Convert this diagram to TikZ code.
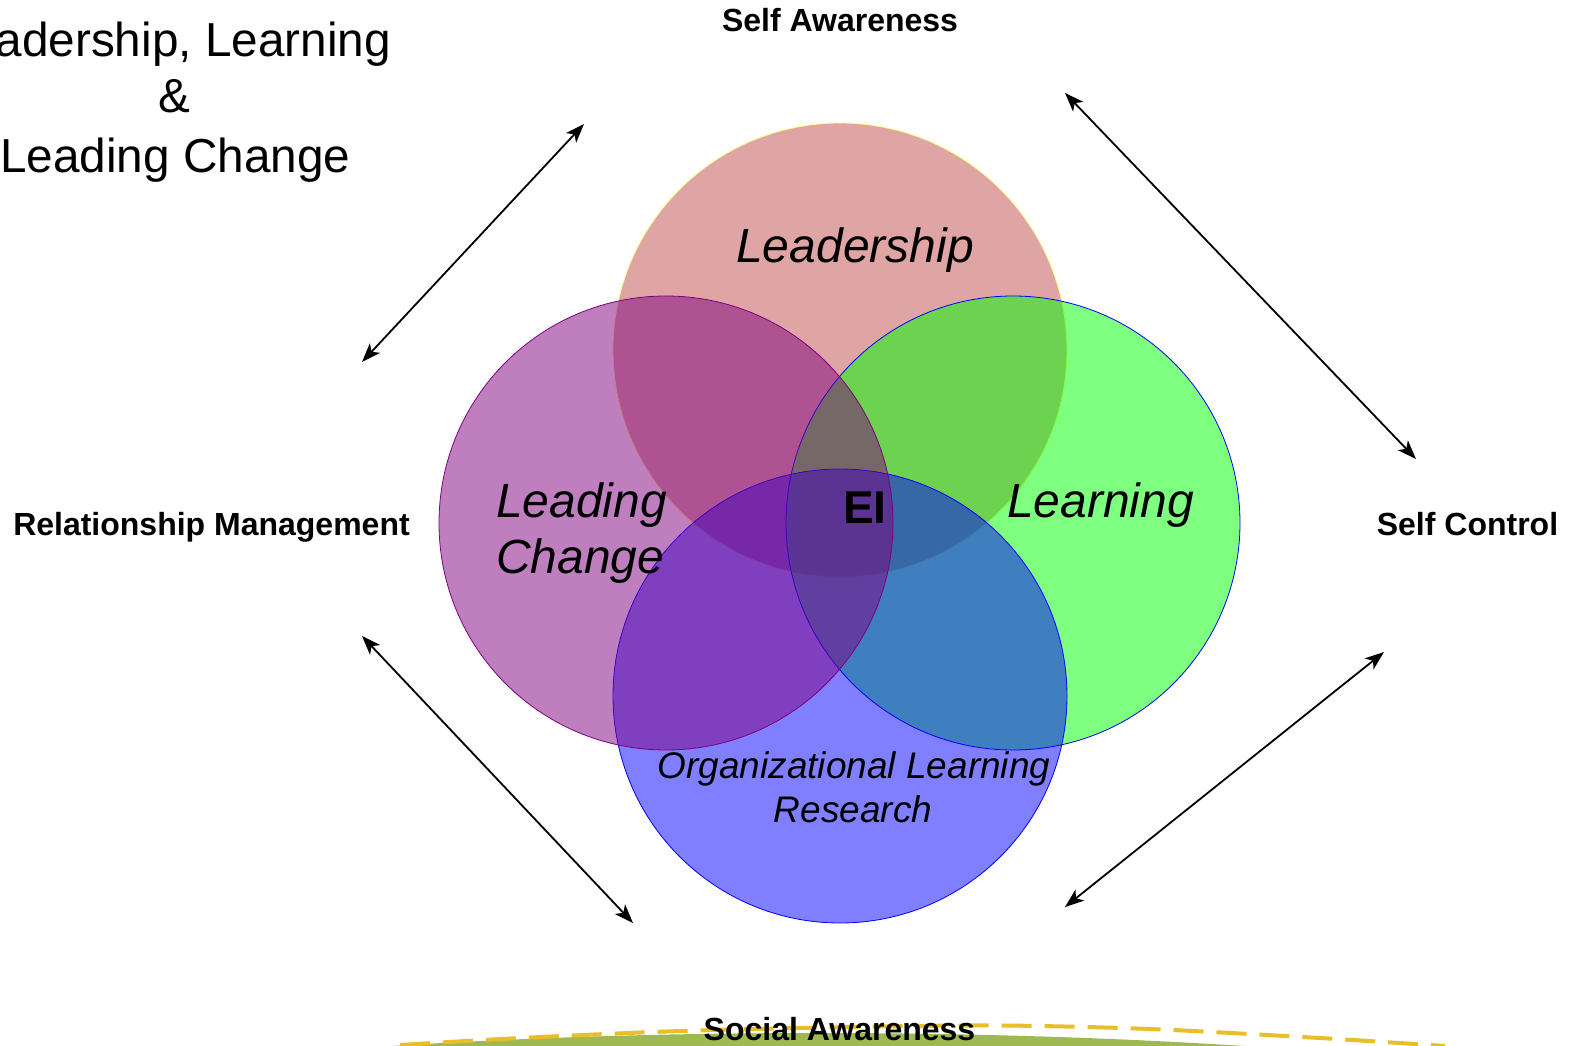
\documentclass[tikz,border=0pt]{standalone}
\usepackage{fontspec}
\setmainfont{Liberation Sans}
\usetikzlibrary{arrows.meta}
\definecolor{leadfill}{RGB}{222,165,164}
\definecolor{leadline}{RGB}{255,255,140}
\definecolor{lcpurple}{RGB}{128,0,128}
\definecolor{lngreen}{RGB}{0,255,0}
\definecolor{olblue}{RGB}{0,0,255}
\definecolor{olive}{RGB}{158,185,80}
\definecolor{gold}{RGB}{234,190,40}
\tikzset{
  venn/.style={circle, minimum size=454pt, inner sep=0pt, line width=0.8pt},
  biglabel/.style={font=\fontsize{48}{56}\selectfont\itshape, inner sep=0pt},
  orglabel/.style={font=\fontsize{37}{45}\selectfont\itshape, inner sep=0pt},
  sidelabel/.style={font=\fontsize{32}{36}\selectfont\bfseries, inner sep=0pt},
  titlelabel/.style={font=\fontsize{47.7}{57}\selectfont, inner sep=0pt},
  linkarrow/.style={{Stealth[length=19pt,width=14pt,inset=5pt]}-{Stealth[length=19pt,width=14pt,inset=5pt]}, line width=1.8pt}
}
\begin{document}
\begin{tikzpicture}[x=1pt,y=-1pt]
\useasboundingbox (0,0) rectangle (1571,1046);
\clip (0,0) rectangle (1571,1046);
\fill[white] (0,0) rectangle (1571,1046);

% bottom decoration
\fill[olive] (818,1233) ellipse [x radius=1200, y radius=200];
\draw[gold, line width=4pt, dash pattern=on 30pt off 13pt]
  plot[smooth] coordinates {(400,1045) (520,1038) (680,1031) (850,1027) (1000,1025.5) (1150,1029) (1320,1038) (1445,1046)};

% circles
\node[venn, fill=leadfill, draw=leadline] (lead) at (840,350) {};
\node[venn, fill=lngreen, fill opacity=0.5, draw=olblue] (learn) at (1013,523) {};
\node[venn, fill=olblue, fill opacity=0.5, draw=olblue] (org) at (840,696) {};
\node[venn, fill=lcpurple, fill opacity=0.5, draw=lcpurple] (change) at (666,523) {};

% circle labels
\node[biglabel, anchor=base] (tlead) at (855,262) {Leadership};
\node[biglabel, anchor=base west] (tchange1) at (496,517) {Leading};
\node[biglabel, anchor=base west] (tchange2) at (496,573) {Change};
\node[biglabel, anchor=base west] (tlearn) at (1007,517) {Learning};
\node[font=\fontsize{46}{50}\selectfont\bfseries, inner sep=0pt, anchor=base west] (ei) at (843,523) {EI};
\node[orglabel, anchor=base] (torg1) at (854,778) {Organizational Learning};
\node[orglabel, anchor=base] (torg2) at (853,822) {Research};

% title
\node[titlelabel, anchor=base east] (title1) at (391,57) {Leadership, Learning};
\node[titlelabel, anchor=base] (title2) at (174,113) {\&};
\node[titlelabel, anchor=base west] (title3) at (0,172) {Leading Change};

% side labels
\node[sidelabel, anchor=base] (sa) at (840,32) {Self Awareness};
\node[sidelabel, anchor=base] (rm) at (211.5,535) {Relationship Management};
\node[sidelabel, anchor=base] (sc) at (1467.5,535) {Self Control};
\node[sidelabel, anchor=base] (soc) at (839.5,1040) {Social Awareness};

% arrow endpoints
\coordinate (a1s) at (362,362);
\coordinate (a1e) at (584,124);
\coordinate (a2s) at (1065,93);
\coordinate (a2e) at (1416,459);
\coordinate (a3s) at (362,636);
\coordinate (a3e) at (633,923);
\coordinate (a4s) at (1384,652);
\coordinate (a4e) at (1065,907);
\draw[linkarrow] (a1s) -- (a1e);
\draw[linkarrow] (a2s) -- (a2e);
\draw[linkarrow] (a3s) -- (a3e);
\draw[linkarrow] (a4s) -- (a4e);
\end{tikzpicture}
\end{document}
